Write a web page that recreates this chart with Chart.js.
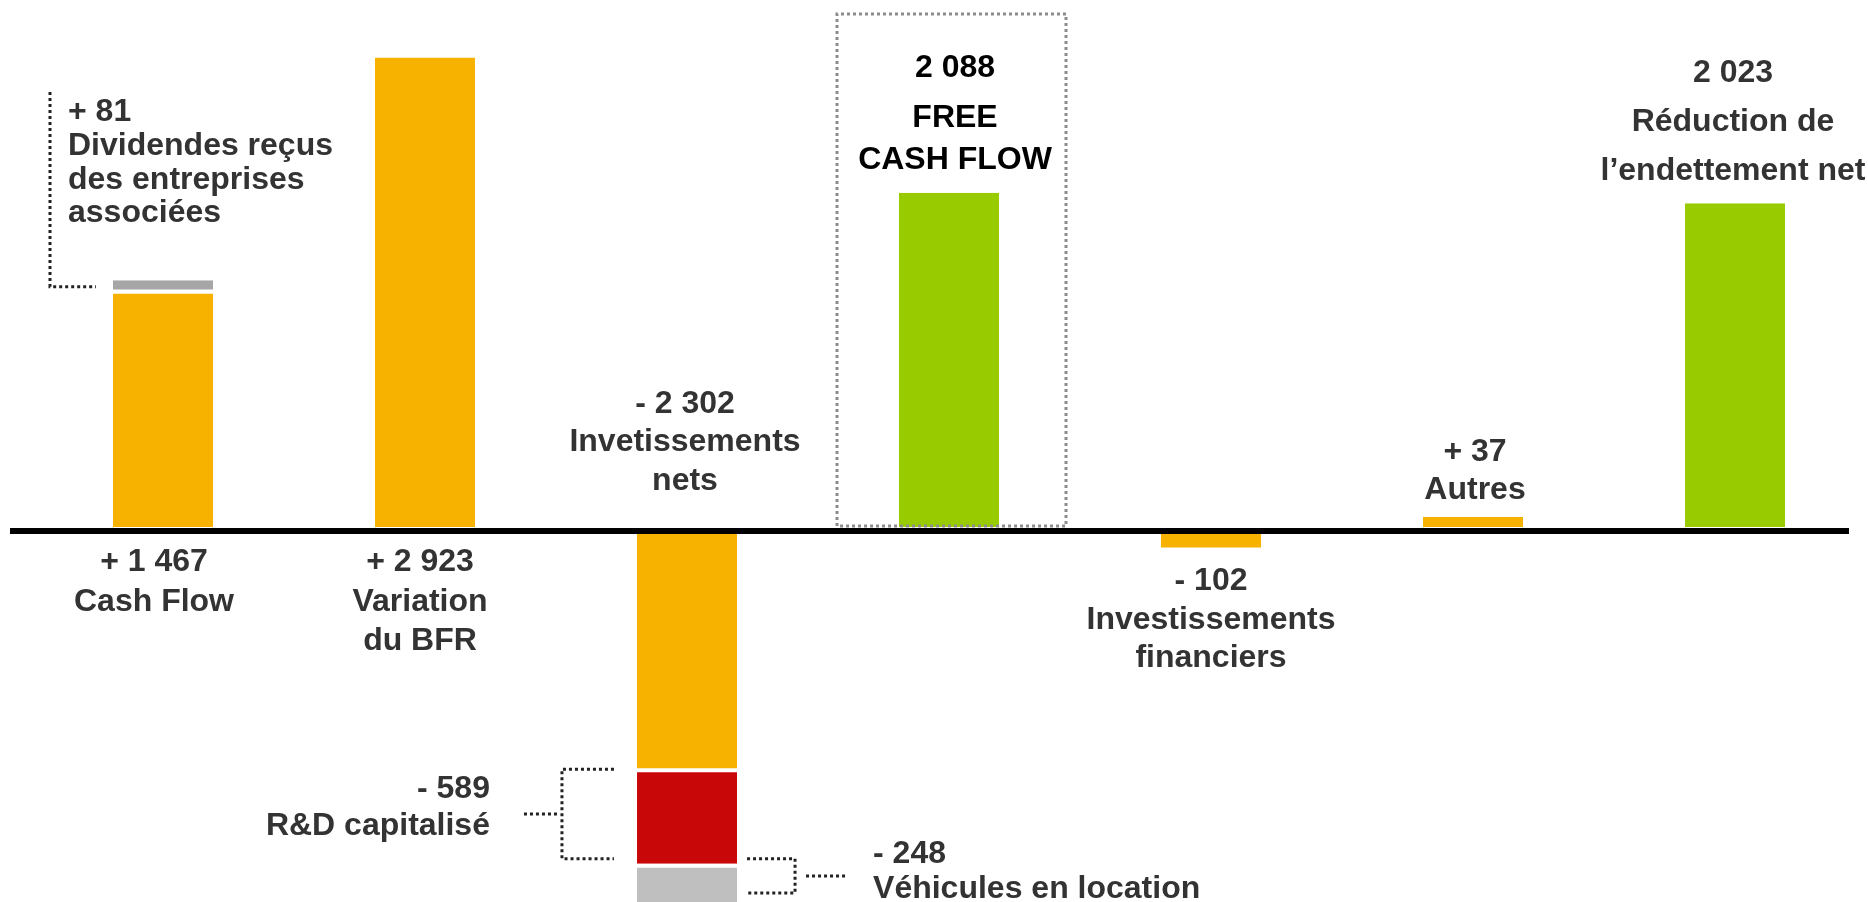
<!DOCTYPE html>
<html>
<head>
<meta charset="utf-8">
<script src="https://cdn.jsdelivr.net/npm/chart.js@4.4.1/dist/chart.umd.min.js"></script>
<style>
  html, body { margin: 0; padding: 0; background: #fff; }
  #wrap { width: 1868px; height: 902px; position: relative; }
</style>
</head>
<body>
<div id="wrap"><canvas id="cashChart"></canvas></div>
<script>
// cash flow bridge (millions d'euros)
const categories = ["Cash Flow", "Variation du BFR", "Investissements nets", "Free Cash Flow",
                    "Investissements financiers", "Autres", "Réduction de l’endettement net"];
// main bar of each category (Investissements nets: part hors R&D et véhicules)
const mainValues = [1467, 2923, -1465, 2088, -102, 37, 2023];
const dividendes = [81, null, null, null, null, null, null];
const rdCapitalise = [null, null, -589, null, null, null, null];
const vehiculesLocation = [null, null, -248, null, null, null, null];

const valueLabels = ["+ 1 467", "+ 2 923", "- 2 302", "2 088", "- 102", "+ 37", "2 023"];
const nameLabels = [
    ["Cash Flow"],
    ["Variation", "du BFR"],
    ["Invetissements", "nets"],
    ["FREE", "CASH FLOW"],
    ["Investissements", "financiers"],
    ["Autres"],
    ["Réduction de", "l’endettement net"]
];
const dividendesLabel = ["+ 81", "Dividendes reçus", "des entreprises", "associées"];
const rdLabel = ["- 589", "R&D capitalisé"];
const vehiculesLabel = ["- 248", "Véhicules en location"];

const ORANGE = "#F7B200";
const GREEN = "#99CC00";
const RED = "#C80808";
const TEXT = "#333333";
const barColors = [ORANGE, ORANGE, ORANGE, GREEN, ORANGE, ORANGE, GREEN];
const FONT = 'bold 32px "Liberation Sans", Arial, sans-serif';

// text baselines: relative to the zero line, or from the top of the canvas when top is set
const labelLayout = [
    { y: [40, 80], dx: -9 },
    { y: [40, 80, 119], dx: -5 },
    { y: [-118, -80, -41], dx: -2 },
    { top: true, y: [77, 127, 169], dx: 6, color: "#000" },
    { y: [59, 98, 136], dx: 0 },
    { y: [-70, -32], dx: 2 },
    { top: true, y: [82, 131, 180], dx: -2 }
];

function dotted(ctx, pts, color) {
    ctx.save();
    ctx.strokeStyle = color;
    ctx.lineWidth = 3;
    ctx.setLineDash([3, 3]);
    ctx.beginPath();
    ctx.moveTo(pts[0][0], pts[0][1]);
    for (let i = 1; i < pts.length; i++) ctx.lineTo(pts[i][0], pts[i][1]);
    ctx.stroke();
    ctx.restore();
}

function textLines(ctx, lines, x, ys, color, align) {
    ctx.save();
    ctx.font = FONT;
    ctx.fillStyle = color;
    ctx.textAlign = align;
    ctx.textBaseline = "alphabetic";
    lines.forEach((t, i) => ctx.fillText(t, x, ys[i]));
    ctx.restore();
}

const bridgePlugin = {
    id: "bridge",
    afterDatasetsDraw(chart) {
        const ctx = chart.ctx;
        const y0 = chart.scales.y.getPixelForValue(0);
        const main = chart.getDatasetMeta(0).data;

        // zero line
        ctx.save();
        ctx.strokeStyle = "#000";
        ctx.lineWidth = 6;
        ctx.beginPath();
        ctx.moveTo(10, y0);
        ctx.lineTo(1849, y0);
        ctx.stroke();
        ctx.restore();

        // dotted frame around free cash flow
        const fcf = main[3];
        dotted(ctx, [[fcf.x - 112, y0 - 5], [fcf.x - 112, 14], [fcf.x + 117, 14],
                     [fcf.x + 117, y0 - 5], [fcf.x - 112, y0 - 5]], "#8c8c8c");

        // category labels
        main.forEach((bar, i) => {
            const lay = labelLayout[i];
            const lines = [valueLabels[i]].concat(nameLabels[i]);
            const ys = lay.y.map(v => lay.top ? v : y0 + v);
            textLines(ctx, lines, bar.x + lay.dx, ys, lay.color || TEXT, "center");
        });

        // dividendes bracket
        const div = chart.getDatasetMeta(1).data[0];
        const divMid = (div.y + div.base) / 2;
        dotted(ctx, [[50, 92], [50, divMid], [96, divMid]], "#222");
        textLines(ctx, dividendesLabel, 68, [121, 155, 189, 222], TEXT, "left");

        // R&D bracket (left of the net investment bar)
        const rd = chart.getDatasetMeta(2).data[2];
        const left = rd.x - rd.width / 2;
        const rdTop = Math.min(rd.y, rd.base) + 1;
        const rdBot = Math.max(rd.y, rd.base) - 5;
        dotted(ctx, [[left - 23, rdTop], [left - 75, rdTop], [left - 75, rdBot], [left - 23, rdBot]], "#222");
        dotted(ctx, [[left - 113, (rdTop + rdBot) / 2], [left - 80, (rdTop + rdBot) / 2]], "#222");
        textLines(ctx, rdLabel, left - 147, [798, 835], TEXT, "right");

        // vehicules bracket (right of the net investment bar)
        const vh = chart.getDatasetMeta(3).data[2];
        const right = vh.x + vh.width / 2;
        const vTop = rdBot;
        const vBot = 893;
        dotted(ctx, [[right + 10, vTop], [right + 58, vTop], [right + 58, vBot], [right + 10, vBot]], "#222");
        dotted(ctx, [[right + 69, (vTop + vBot) / 2], [right + 109, (vTop + vBot) / 2]], "#222");
        textLines(ctx, vehiculesLabel, right + 136, [863, 898], TEXT, "left");
    }
};

const gapBottom = { top: 0, bottom: 4, left: 0, right: 0 };
const gapTop = { top: 4, bottom: 0, left: 0, right: 0 };

new Chart(document.getElementById("cashChart"), {
    type: "bar",
    data: {
        labels: categories,
        datasets: [
            {
                label: "Flux",
                data: mainValues,
                backgroundColor: barColors,
                borderColor: "#fff",
                borderWidth: ctx => ctx.raw >= 0 ? gapBottom : 0,
                borderSkipped: false,
                minBarLength: 14
            },
            {
                label: "Dividendes reçus des entreprises associées",
                data: dividendes,
                backgroundColor: "#A6A6A6",
                borderColor: "#fff",
                borderWidth: gapBottom,
                borderSkipped: false
            },
            {
                label: "R&D capitalisé",
                data: rdCapitalise,
                backgroundColor: RED,
                borderColor: "#fff",
                borderWidth: gapTop,
                borderSkipped: false
            },
            {
                label: "Véhicules en location",
                data: vehiculesLocation,
                backgroundColor: "#BFBFBF",
                borderColor: "#fff",
                borderWidth: gapTop,
                borderSkipped: false
            }
        ]
    },
    options: {
        responsive: true,
        maintainAspectRatio: false,
        animation: false,
        layout: { padding: { left: 32, right: 2, top: 0, bottom: 0 } },
        datasets: { bar: { categoryPercentage: 0.382, barPercentage: 1 } },
        plugins: { legend: { display: false }, tooltip: { enabled: false } },
        scales: {
            x: { stacked: true, display: false },
            y: { stacked: true, display: false, min: -2290, max: 3278 }
        }
    },
    plugins: [bridgePlugin]
});
</script>
</body>
</html>
